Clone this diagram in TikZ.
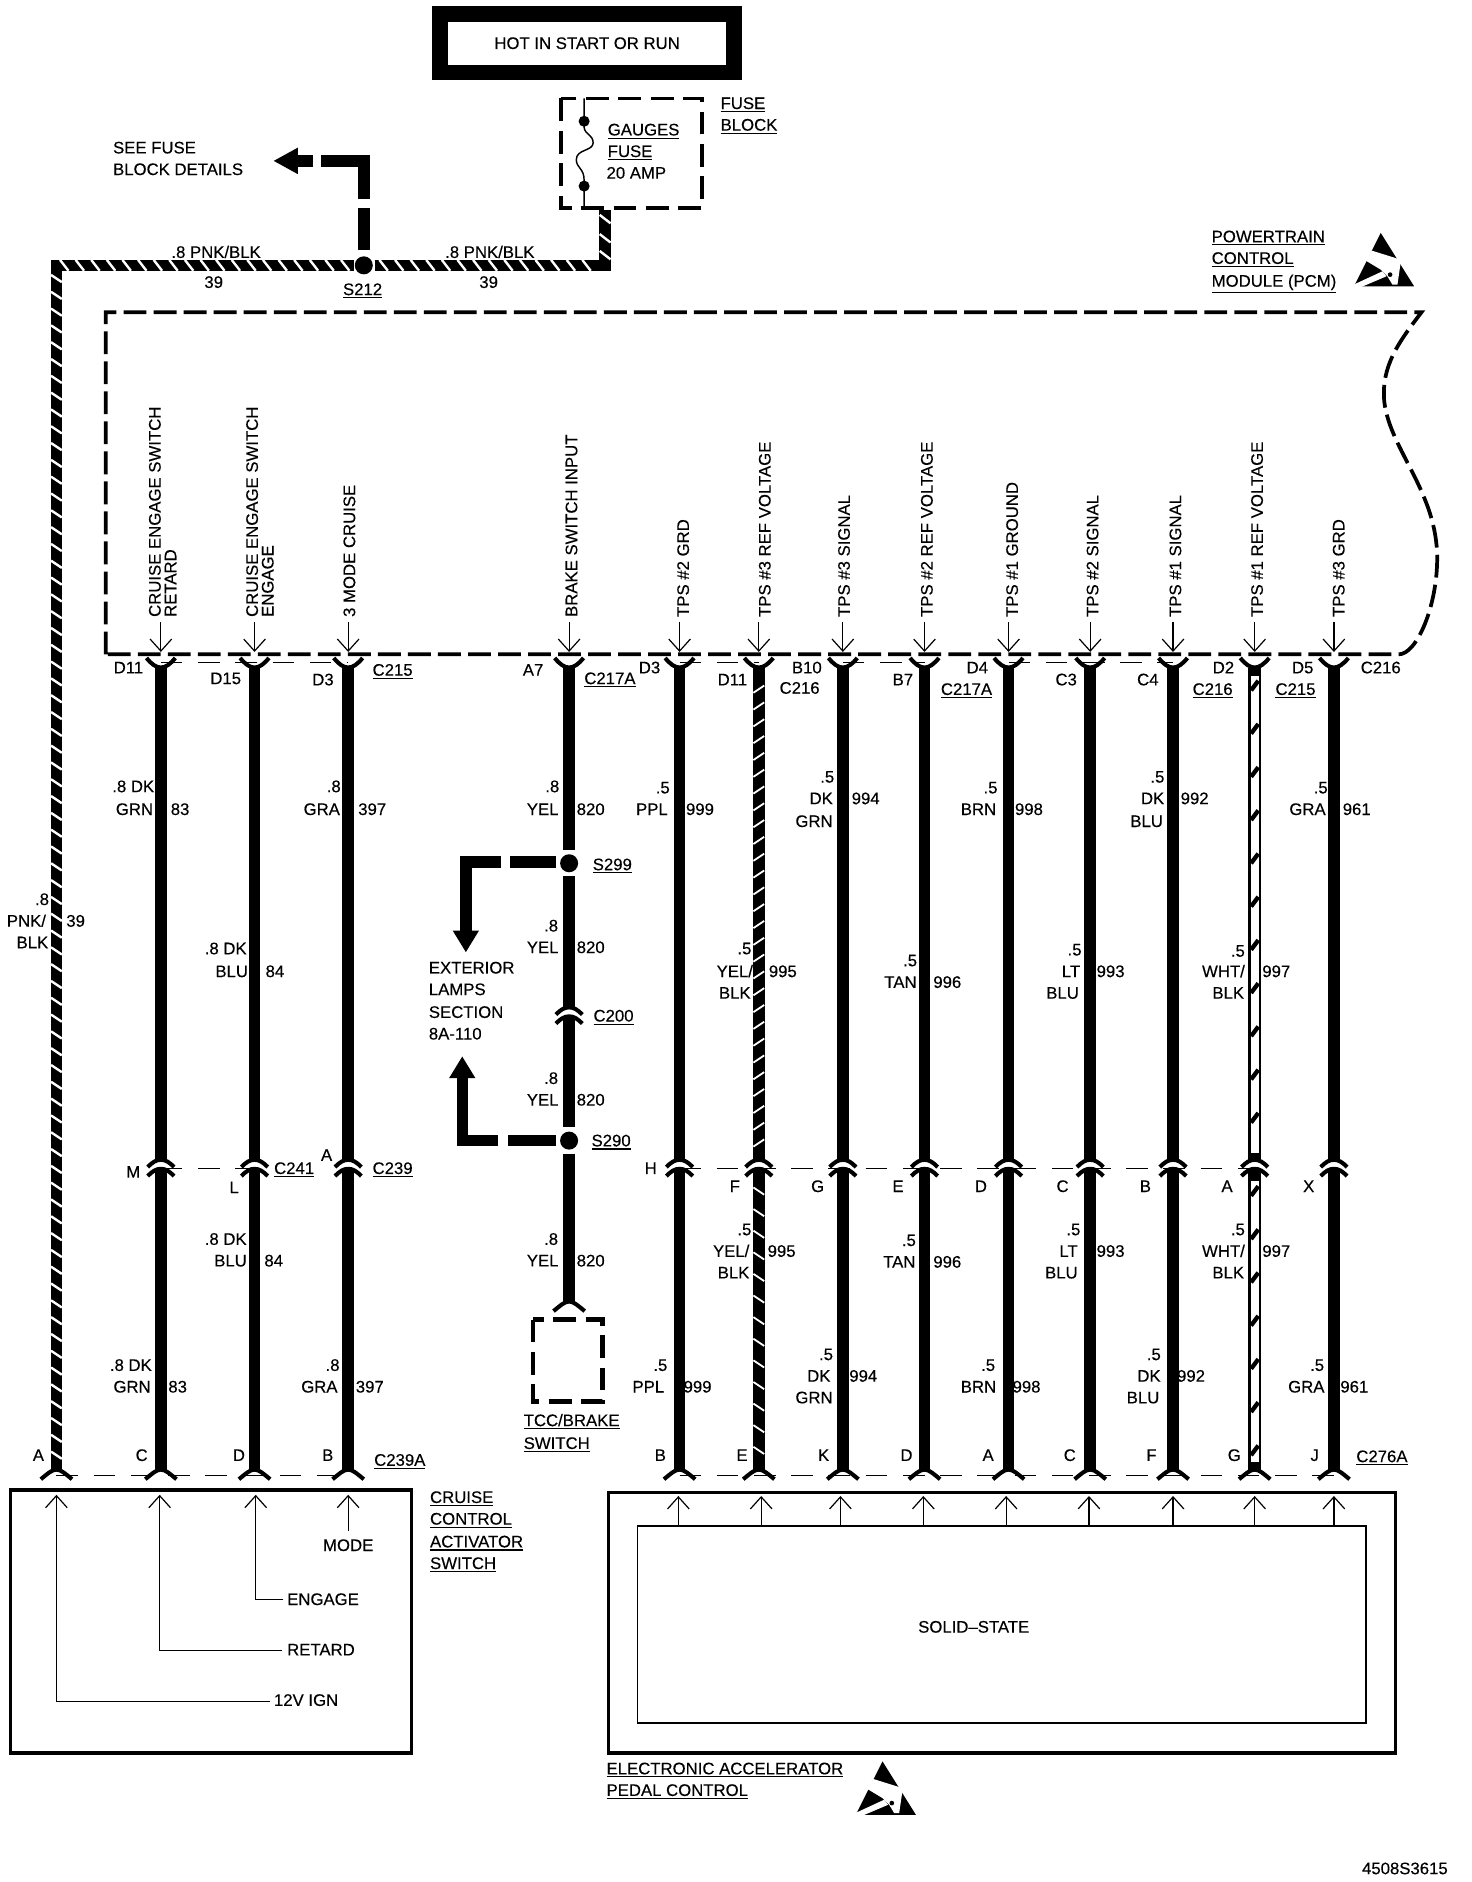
\documentclass[tikz,border=0pt]{standalone}
\usepackage{fontspec}
\setmainfont{Liberation Sans}[FakeBold=0.25]
\usetikzlibrary{arrows.meta}
\newcount\tc
\newcommand\ul[1]{\vtop{\hbox{#1}\kern1.6bp\hrule height 0.9bp}}
\newcommand\tC[3]{\global\advance\tc by1 \node[lab,anchor=base] (t\the\tc) at (#1,#2+4.8) {#3};}
\newcommand\tL[3]{\global\advance\tc by1 \node[lab,anchor=base west] (t\the\tc) at (#1,#2+4.8) {#3};}
\newcommand\tR[2]{\global\advance\tc by1 \node[lab,anchor=base west,rotate=90] (t\the\tc) at (#1+4.8,514) {#2};}
\newcommand\esd[2]{\begin{scope}[shift={(#1,#2)},scale=0.278,shift={(-130,-25)}]
\fill (130,25) -- (50,185) -- (230,185) -- cycle;
\fill[white] (85,108) -- (103,78) -- (180,102) -- (190,112) -- (180,180) -- (165,180) -- (150,155) -- (130,135) -- cycle;
\fill[white] (40,184) -- (135,140) -- (147,155) -- (60,192) -- cycle;
\fill (158,150) circle (7);
\end{scope}}
\tikzset{
 lab/.style={inner sep=0pt,font=\fontsize{14}{16}\selectfont},
 wire/.style={line width=9.5bp},
 fork/.style={line width=3.4bp},
 thindash/.style={line width=1bp,dash pattern=on 18bp off 13bp},
 pcmbox/.style={line width=3.1bp,dash pattern=on 19bp off 6bp},
 fusebox/.style={line width=3.2bp,dash pattern=on 19bp off 8bp},
 branch/.style={line width=9.5bp},
 thinar/.style={line width=1bp,-{Straight Barb[length=10bp,width=18bp,line width=1bp]}},
 swline/.style={line width=1.2bp}
}
\begin{document}
\begin{tikzpicture}[x=1bp,y=-1bp]
\useasboundingbox (0,0) rectangle (1226,1567.5);
% named wire positions
\foreach \n/\x in {a/134,b/212,c/290,d/474,e/566,f/632,g/702,h/770,i/840,j/908,k/977,l/1045,m/1111,z/47}{
 \coordinate (t\n) at (\x,556);
 \coordinate (m\n) at (\x,966);
 \coordinate (e\n) at (\x,1224);
 \coordinate (q\n) at (\x,518);
 \coordinate (r\n) at (\x,543);
}
% top box
\node[draw,line width=13bp,minimum width=245bp,minimum height=49bp,inner sep=0pt,font=\fontsize{14}{16}\selectfont] (hot) at (489,36) {HOT IN START OR RUN};
% fuse block
\draw[fusebox] (467,82) rectangle (585,173);
\coordinate (fa) at (486.5,82); \coordinate (fb) at (486.5,173);
\fill (486.5,101) circle (4.6); \fill (486.5,155) circle (4.6);
\draw[swline] (fa) -- (486.5,106) .. controls (487,112) and (494,112) .. (494,119) .. controls (494,126) and (480,124) .. (480,133) .. controls (480,140) and (486.5,140) .. (486.5,150) -- (fb);
\tL{506}{108}{\ul{GAUGES}}
\tL{506}{126}{\ul{FUSE}}
\tL{505}{144}{20 AMP}
\tL{600}{86}{\ul{FUSE}}
\tL{600}{104}{\ul{BLOCK}}
% splice S212 and feed
\coordinate (s212) at (303,221);
\fill (s212) circle (7.5);
\coordinate (fd) at (504,175); \coordinate (fc) at (504,221); \coordinate (hl) at (47,221); \coordinate (hr) at (295,221); \coordinate (hq) at (312,221);
\draw[wire,line cap=butt] (hr) -- (hl) -- (ez);
\draw[wire] (hq) -- (fc) -- (fd);
\begin{scope}[white,line width=2bp]
\foreach \x in {54,67,...,290,320,333,...,495} \draw (\x-4,216.5) -- (\x+3,225.5);
\foreach \y in {182,198,212} \draw (499.5,\y-3) -- (508.5,\y+4);
\foreach \y in {232,246,...,1215} \draw (42.5,\y-3) -- (51.5,\y+3);
\end{scope}
% see fuse block branch
\coordinate (ba) at (303,208); \coordinate (bb) at (303,173); \coordinate (bc) at (303,166); \coordinate (bd) at (303,134); \coordinate (be) at (267,134); \coordinate (bf) at (261,134); \coordinate (bg) at (246,134);
\draw[branch] (ba) -- (bb);
\draw[branch] (bc) -- (bd) -- (be);
\draw[branch] (bf) -- (bg);
\fill (228,134) -- (248,123) -- (248,145) -- cycle;
\tL{94}{123}{SEE FUSE}
\tL{94}{141}{BLOCK DETAILS}
\tC{180}{210}{.8 PNK/BLK}
\tC{178}{235}{39}
\tC{302}{241}{\ul{S212}}
\tC{408}{210}{.8 PNK/BLK}
\tC{407}{235}{39}
% PCM
\tL{1009}{197}{\ul{POWERTRAIN}}
\tL{1009}{215}{\ul{CONTROL}}
\tL{1009}{234}{\ul{MODULE (PCM)}}
\esd{1150}{194}
\draw[pcmbox] (88,545) -- (88,260) -- (1184,260) .. controls (1165,285) and (1150,305) .. (1153,335) .. controls (1158,375) and (1197,410) .. (1197,465) .. controls (1197,505) and (1180,545) .. (1165,545) -- cycle;
% rotated signal labels
\tR{129}{CRUISE ENGAGE SWITCH}
\tR{142}{RETARD}
\tR{210}{CRUISE ENGAGE SWITCH}
\tR{223}{ENGAGE}
\tR{291}{3 MODE CRUISE}
\tR{476}{BRAKE SWITCH INPUT}
\tR{569}{TPS \#2 GRD}
\tR{637}{TPS \#3 REF VOLTAGE}
\tR{703}{TPS \#3 SIGNAL}
\tR{772}{TPS \#2 REF VOLTAGE}
\tR{843}{TPS \#1 GROUND}
\tR{910}{TPS \#2 SIGNAL}
\tR{979}{TPS \#1 SIGNAL}
\tR{1047}{TPS \#1 REF VOLTAGE}
\tR{1115}{TPS \#3 GRD}
\foreach \n in {a,b,c,d,e,f,g,h,i,j,k,l,m} \draw[thinar] (q\n) -- (r\n);
% thin connector shell lines
\draw[thindash] (134,552) -- (290,552);
\draw[thindash] (566,552) -- (632,552);
\draw[thindash] (702,552) -- (770,552);
\draw[thindash] (840,552) -- (977,552);
\draw[thindash] (134,973) -- (212,973);
\draw[thindash] (566,973) -- (1045,973);
\draw[thindash] (47,1229) -- (290,1229);
\draw[thindash] (566,1229) -- (1111,1229);
% wires with forks
\foreach \n in {a,b,c,e,f,g,h,i,j,k,m}{
 \draw[wire] (t\n) -- (m\n);
 \draw[wire] (m\n) ++(0,8) -- (e\n);
}
\draw[wire,line width=11bp] (tl) -- (ml);
\draw[wire,line width=11bp] (ml) ++(0,8) -- (el);
\foreach \n in {a,b,c,d,e,f,g,h,i,j,k,l,m}{
 \draw[fork,shift={(t\n)}] (-12,-8) .. controls (-8,-3) and (-4,0) .. (0,0) .. controls (4,0) and (8,-3) .. (12,-8);
}
\foreach \n in {a,b,c,e,f,g,h,i,j,k,l,m}{
 \draw[fork,shift={(m\n)}] (-11,6) .. controls (-7,2) and (-4,0) .. (0,0) .. controls (4,0) and (7,2) .. (11,6);
 \draw[fork,shift={(m\n)}] (-11,13.5) .. controls (-7,9.5) and (-4,7.5) .. (0,7.5) .. controls (4,7.5) and (7,9.5) .. (11,13.5);
}
\foreach \n in {z,a,b,c,e,f,g,h,i,j,k,l,m}{
 \draw[fork,shift={(e\n)}] (-13,8) .. controls (-8,4) and (-4,0) .. (0,0) .. controls (4,0) and (8,4) .. (13,8);
}
% hatched wires
\begin{scope}[white,line width=1.5bp]
\foreach \y in {574,588,...,960} \draw (627.5,\y+3) -- (636.5,\y-3);
\foreach \y in {992,1010,...,1215} \draw (627.5,\y-3) -- (636.5,\y+3);
\end{scope}
\foreach \a/\b in {563/960,984/1218}{
 \draw[white,line width=6.5bp] (1045,\a) -- (1045,\b);
}
\foreach \y in {571,607,...,960,992,1028,...,1218} \draw[line width=3.6bp] (1042,\y+4) -- (1048,\y-4);
% brake switch wire
\coordinate (s299) at (474,719); \coordinate (s290) at (474,950);
\coordinate (c200) at (474,839); \coordinate (tcc) at (474,1084);
\fill (s299) circle (7.5); \fill (s290) circle (7.5);
\draw[wire] (td) -- (474,708);
\draw[wire] (474,730) -- (c200);
\draw[wire] (474,847) -- (474,939);
\draw[wire] (474,961) -- (tcc);
\draw[fork,shift={(c200)}] (-11,6) .. controls (-7,2) and (-4,0) .. (0,0) .. controls (4,0) and (7,2) .. (11,6);
\draw[fork,shift={(c200)}] (-11,13.5) .. controls (-7,9.5) and (-4,7.5) .. (0,7.5) .. controls (4,7.5) and (7,9.5) .. (11,13.5);
\draw[fork,shift={(tcc)}] (-13,8) .. controls (-8,4) and (-4,0) .. (0,0) .. controls (4,0) and (8,4) .. (13,8);
% branches S299, S290
\coordinate (ua) at (463,718); \coordinate (ub) at (425,718); \coordinate (uc) at (417,718); \coordinate (ud) at (388,718); \coordinate (ue) at (388,777);
\draw[branch] (ua) -- (ub);
\draw[branch] (uc) -- (ud) -- (ue);
\fill (388,793) -- (377,775) -- (399,775) -- cycle;
\coordinate (va) at (463,950); \coordinate (vb) at (423,950); \coordinate (vc) at (415,950); \coordinate (vd) at (385,950); \coordinate (ve) at (385,898);
\draw[branch] (va) -- (vb);
\draw[branch] (vc) -- (vd) -- (ve);
\fill (385,880) -- (374,898) -- (396,898) -- cycle;
\tL{357}{806}{EXTERIOR}
\tL{357}{824}{LAMPS}
\tL{357}{843}{SECTION}
\tL{357}{861}{8A-110}
\tC{510}{720}{\ul{S299}}
\tC{509}{950}{\ul{S290}}
\tC{511}{846}{\ul{C200}}
\draw[fusebox,line width=4bp] (444,1099) rectangle (502,1167);
\tL{436}{1183}{\ul{TCC/BRAKE}}
\tL{436}{1202}{\ul{SWITCH}}
% wire labels: first group
\tC{32}{1212}{A}\tC{35}{749}{.8}\tC{22}{767}{PNK/}\tC{27}{785}{BLK}\tC{63}{767}{39}
\tC{107}{556}{D11}\tC{111}{655}{.8 DK}\tC{112}{674}{GRN}\tC{150}{674}{83}
\tC{111}{976}{M}\tC{109}{1137}{.8 DK}\tC{110}{1155}{GRN}\tC{148}{1155}{83}\tC{118}{1212}{C}
\tC{188}{565}{D15}\tC{188}{790}{.8 DK}\tC{193}{809}{BLU}\tC{229}{809}{84}
\tC{195}{989}{L}\tC{245}{973}{\ul{C241}}\tC{188}{1032}{.8 DK}\tC{192}{1050}{BLU}\tC{228}{1050}{84}\tC{199}{1212}{D}
\tC{269}{566}{D3}\tC{327}{558}{\ul{C215}}\tC{278}{655}{.8}\tC{268}{674}{GRA}\tC{310}{674}{397}
\tC{272}{962}{A}\tC{327}{973}{\ul{C239}}\tC{277}{1137}{.8}\tC{266}{1155}{GRA}\tC{308}{1155}{397}\tC{273}{1212}{B}\tC{333}{1216}{\ul{C239A}}
% brake wire labels
\tC{444}{558}{A7}\tC{508}{565}{\ul{C217A}}\tC{460}{655}{.8}\tC{452}{674}{YEL}\tC{492}{674}{820}
\tC{459}{771}{.8}\tC{452}{789}{YEL}\tC{492}{789}{820}
\tC{459}{898}{.8}\tC{452}{916}{YEL}\tC{492}{916}{820}
\tC{459}{1032}{.8}\tC{452}{1050}{YEL}\tC{492}{1050}{820}
% TPS labels
\tC{541}{556}{D3}\tC{552}{656}{.5}\tC{543}{674}{PPL}\tC{583}{674}{999}
\tC{542}{973}{H}\tC{550}{1137}{.5}\tC{540}{1155}{PPL}\tC{581}{1155}{999}\tC{550}{1212}{B}
\tC{610}{566}{D11}\tC{620}{790}{.5}\tC{612}{809}{YEL/}\tC{612}{827}{BLK}\tC{652}{809}{995}
\tC{612}{988}{F}\tC{620}{1024}{.5}\tC{609}{1042}{YEL/}\tC{611}{1060}{BLK}\tC{651}{1042}{995}\tC{618}{1212}{E}
\tC{672}{556}{B10}\tC{666}{573}{C216}\tC{689}{647}{.5}\tC{684}{665}{DK}\tC{678}{684}{GRN}\tC{721}{665}{994}
\tC{681}{988}{G}\tC{688}{1128}{.5}\tC{682}{1146}{DK}\tC{678}{1164}{GRN}\tC{719}{1146}{994}\tC{686}{1212}{K}
\tC{752}{566}{B7}\tC{758}{800}{.5}\tC{750}{818}{TAN}\tC{789}{818}{996}
\tC{748}{988}{E}\tC{757}{1033}{.5}\tC{749}{1051}{TAN}\tC{789}{1051}{996}\tC{755}{1212}{D}
\tC{814}{556}{D4}\tC{805}{574}{\ul{C217A}}\tC{825}{656}{.5}\tC{815}{674}{BRN}\tC{857}{674}{998}
\tC{817}{988}{D}\tC{823}{1137}{.5}\tC{815}{1155}{BRN}\tC{855}{1155}{998}\tC{823}{1212}{A}
\tC{888}{566}{C3}\tC{895}{791}{.5}\tC{892}{809}{LT}\tC{885}{827}{BLU}\tC{925}{809}{993}
\tC{885}{988}{C}\tC{894}{1024}{.5}\tC{890}{1042}{LT}\tC{884}{1060}{BLU}\tC{925}{1042}{993}\tC{891}{1212}{C}
\tC{956}{566}{C4}\tC{1010}{574}{\ul{C216}}\tC{964}{647}{.5}\tC{960}{665}{DK}\tC{955}{684}{BLU}\tC{995}{665}{992}
\tC{954}{988}{B}\tC{961}{1128}{.5}\tC{957}{1146}{DK}\tC{952}{1164}{BLU}\tC{992}{1146}{992}\tC{959}{1212}{F}
\tC{1019}{556}{D2}\tC{1031}{792}{.5}\tC{1019}{809}{WHT/}\tC{1023}{827}{BLK}\tC{1063}{809}{997}
\tC{1022}{988}{A}\tC{1031}{1024}{.5}\tC{1019}{1042}{WHT/}\tC{1023}{1060}{BLK}\tC{1063}{1042}{997}\tC{1028}{1212}{G}
\tC{1085}{556}{D5}\tC{1079}{574}{\ul{C215}}\tC{1150}{556}{C216}\tC{1100}{656}{.5}\tC{1089}{674}{GRA}\tC{1130}{674}{961}
\tC{1090}{988}{X}\tC{1097}{1137}{.5}\tC{1088}{1155}{GRA}\tC{1128}{1155}{961}\tC{1095}{1212}{J}\tC{1151}{1213}{\ul{C276A}}
% cruise switch
\draw[line width=2.6bp] (9,1241) rectangle (343,1460);
\coordinate (ca) at (225,1417); \coordinate (cb) at (47,1417); \coordinate (cc) at (47,1245);
\coordinate (cd) at (235,1375); \coordinate (ce) at (133,1375); \coordinate (cf) at (133,1245);
\coordinate (cg) at (236,1332); \coordinate (ch) at (213,1332); \coordinate (ci) at (213,1245);
\coordinate (cj) at (290,1275); \coordinate (ck) at (290,1245);
\draw[thinar] (ca) -- (cb) -- (cc);
\draw[thinar] (cd) -- (ce) -- (cf);
\draw[thinar] (cg) -- (ch) -- (ci);
\draw[thinar] (cj) -- (ck);
\tL{228}{1416}{12V IGN}
\tL{239}{1374}{RETARD}
\tL{239}{1332}{ENGAGE}
\tC{290}{1287}{MODE}
\tL{358}{1247}{\ul{CRUISE}}
\tL{358}{1265}{\ul{CONTROL}}
\tL{358}{1284}{\ul{ACTIVATOR}}
\tL{358}{1302}{\ul{SWITCH}}
% accelerator pedal
\draw[line width=2.6bp] (507,1243) rectangle (1162,1460);
\draw[line width=1.5bp] (531,1271) rectangle (1138,1435);
\foreach \x in {565,634,700,769,838,907,977,1045,1111}{
 \coordinate (ia\x) at (\x,1271); \coordinate (ib\x) at (\x,1246);
 \draw[thinar] (ia\x) -- (ib\x);
}
\tC{811}{1355}{SOLID–STATE}
\tL{505}{1473}{\ul{ELECTRONIC ACCELERATOR}}
\tL{505}{1491}{\ul{PEDAL CONTROL}}
\esd{735}{1467}
\global\advance\tc by1 \node[lab,anchor=base east] (t\the\tc) at (1206,1561) {4508S3615};
\end{tikzpicture}
\end{document}
